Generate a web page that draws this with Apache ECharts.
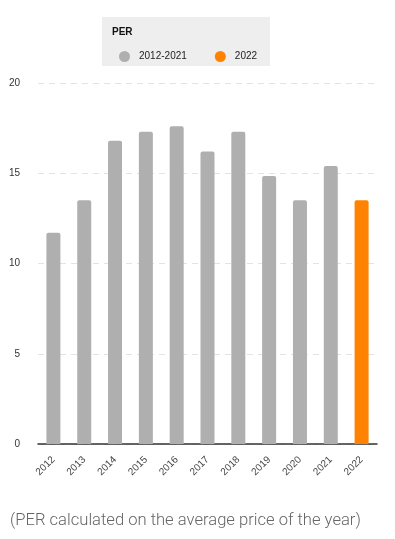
<!DOCTYPE html>
<html><head><meta charset="utf-8">
<script src="https://cdn.jsdelivr.net/npm/echarts@6/dist/echarts.min.js"></script>
<style>html,body{margin:0;padding:0;background:#fff}#c{width:395px;height:539px}</style>
</head><body><div id="c"></div>
<script>
var categories = ['2012','2013','2014','2015','2016','2017','2018','2019','2020','2021','2022'];
var perHistory = [11.7, 13.5, 16.8, 17.3, 17.6, 16.2, 17.3, 14.85, 13.5, 15.4, '-'];
var perCurrent = ['-','-','-','-','-','-','-','-','-','-', 13.5];
var yTicks = [0, 5, 10, 15, 20];
var seriesNames = ['2012-2021', '2022'];
var legendTitle = 'PER';
var caption = '(PER calculated on the average price of the year)';

var chart = echarts.init(document.getElementById('c'), null, {renderer:'canvas'});
chart.setOption({
  animation: false,
  grid: {left: 38, right: 18, top: 83, bottom: 95},
  graphic: [
    {type:'rect', left: 102, top: 17, shape:{width:168, height:49}, style:{fill:'#eeeeee'}, z: -1},
    {type:'text', left: 112, top: 27, style:{text: legendTitle, font:'bold 10px "Liberation Sans", Arial', fill:'#111'}},
    {type:'text', left: 10, top: 512, style:{text: caption, font:'300 16.6px Roboto', fill:'#666'}}
  ],
  legend: {
    left: 114, top: 46, itemWidth: 11, itemHeight: 11, itemGap: 28,
    icon: 'circle',
    textStyle: {fontSize: 10, color:'#222', fontFamily:'"Liberation Sans", Arial', padding:[0,0,0,4]},
    data: seriesNames
  },
  xAxis: {
    type: 'category', data: categories,
    axisLine: {lineStyle:{color:'#333', width:1.5}},
    axisTick: {show:false},
    axisLabel: {rotate: 45, fontSize: 10, color:'#444', fontFamily:'"Liberation Sans", Arial', margin: 14, interval: 0}
  },
  yAxis: {
    type: 'value', min: yTicks[0], max: yTicks[yTicks.length-1], interval: 5,
    axisLine: {show:false}, axisTick:{show:false},
    axisLabel: {fontSize: 10, color:'#333', fontFamily:'"Liberation Sans", Arial', margin: 18},
    splitLine: {lineStyle:{color:'#e3e3e3', type:[6,5]}}
  },
  series: [
    {name: seriesNames[0], type:'bar', stack:'a', data: perHistory, barWidth: 14,
     itemStyle:{color:'#afafaf', borderRadius:[2,2,0,0]}},
    {name: seriesNames[1], type:'bar', stack:'a', data: perCurrent, barWidth: 14,
     itemStyle:{color:'#ff8200', borderRadius:[2,2,0,0]}}
  ]
});
</script></body></html>
